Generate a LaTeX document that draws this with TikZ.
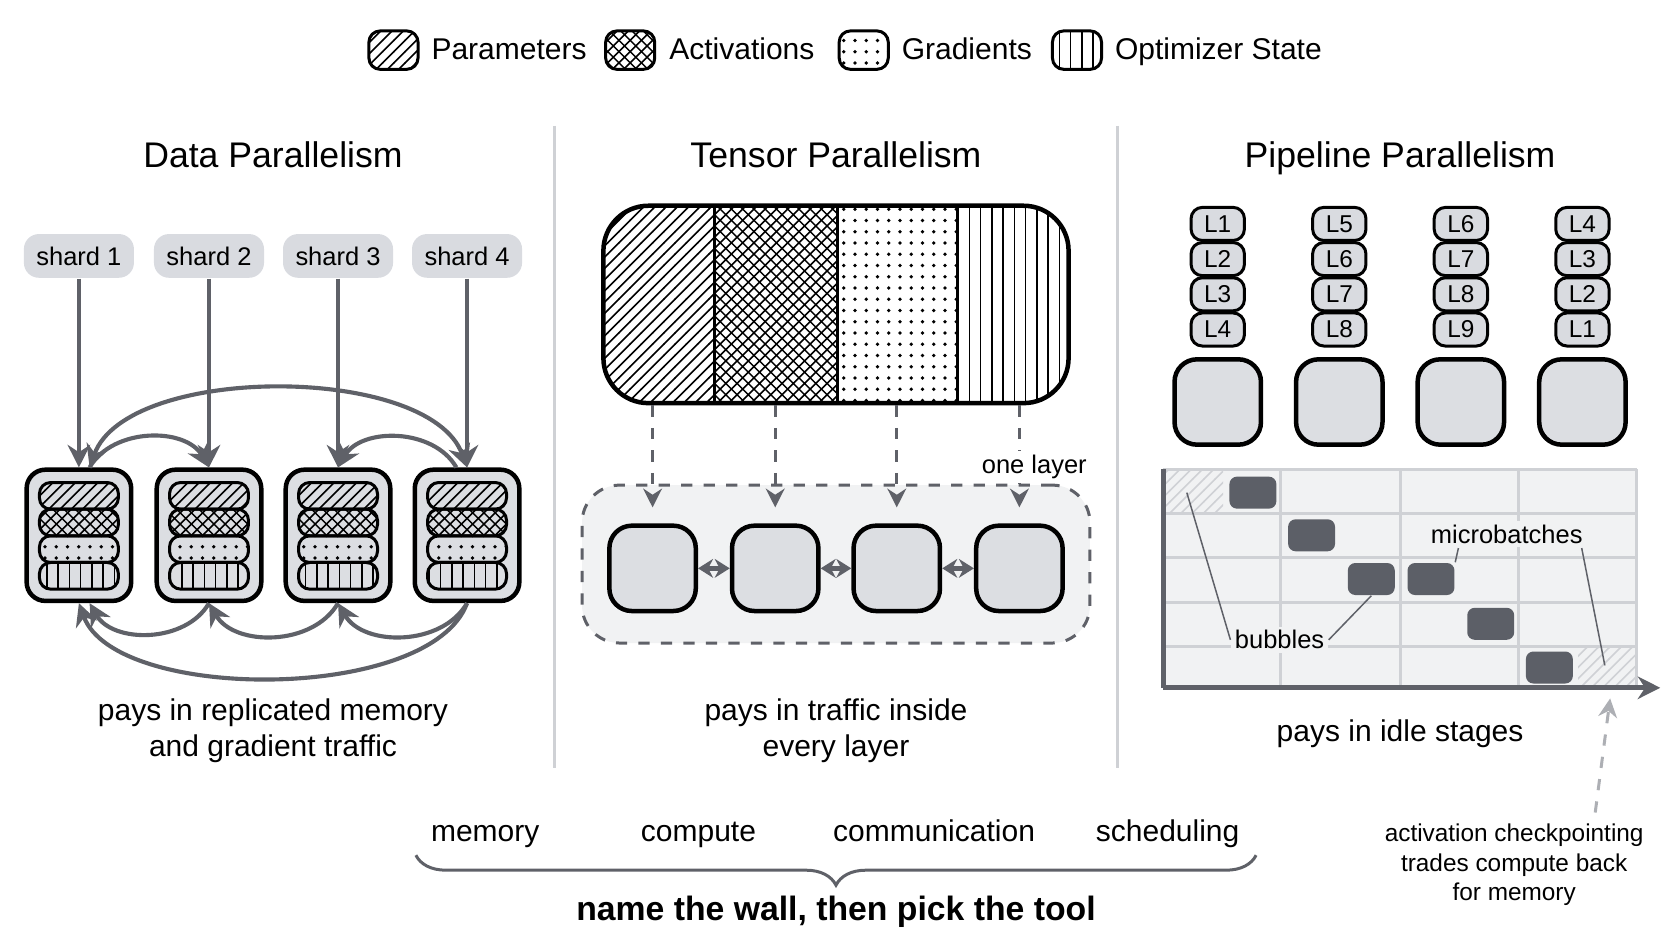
\documentclass[tikz,border=0pt]{standalone}
\usepackage{fontspec}
\setmainfont{Liberation Sans}
\usetikzlibrary{positioning,patterns,arrows.meta,decorations.pathreplacing}
\definecolor{chipgray}{HTML}{D9DBE0}
\definecolor{devgray}{HTML}{DCDEE2}
\definecolor{arrgray}{HTML}{5F6168}
\definecolor{blockgray}{HTML}{5C5F67}
\definecolor{gridgray}{HTML}{CFD1D5}
\definecolor{panelgray}{HTML}{F1F2F3}

\tikzset{
    shard/.style={fill=chipgray, rounded corners=4pt, minimum width=0.98cm, minimum height=0.40cm, font=\fontsize{6.8}{8}\selectfont},
    dev/.style={draw, very thick, fill=devgray, rounded corners=5pt, minimum width=0.98cm, minimum height=1.23cm},
    bar/.style={draw, thick, fill=white, rounded corners=3pt, minimum width=0.74cm, minimum height=0.25cm},
    chip/.style={draw, thick, fill=chipgray, rounded corners=3pt, minimum width=0.50cm, minimum height=0.31cm, inner sep=0pt, font=\fontsize{6.5}{8}\selectfont},
    box/.style={draw, very thick, fill=devgray, rounded corners=6pt, minimum width=0.81cm, minimum height=0.80cm},
    swatch/.style={draw, thick, rounded corners=3pt, minimum width=0.46cm, minimum height=0.36cm},
    legtext/.style={anchor=base west, inner sep=0pt, font=\fontsize{8}{9.6}\selectfont},
    arr/.style={draw=arrgray, line width=1.1pt, -{Stealth[length=6pt,width=6pt]}},
    dasharr/.style={draw=arrgray, thick, dashed, -{Stealth[length=5pt,width=5pt]}},
    title/.style={font=\fontsize{9.5}{11}\selectfont},
    caption/.style={font=\fontsize{8}{9.6}\selectfont, align=center},
    wall/.style={anchor=base, font=\fontsize{8}{9.6}\selectfont},
    lead/.style={draw=arrgray, thin},
    mb/.style={fill=blockgray, rounded corners=2pt, minimum width=0.44cm, minimum height=0.30cm, inner sep=0pt}
}

\begin{document}
\begin{tikzpicture}[x=0.01cm, y=-0.01cm]
    \useasboundingbox (0,0) rectangle (1568,882);

    % Legend
    \node (lg1) [swatch, pattern=north east lines] at (369,47) {};
    \node [legtext] at (404,56) {Parameters};
    \node (lg2) [swatch, pattern=crosshatch] at (591,47) {};
    \node [legtext] at (627,56) {Activations};
    \node (lg3) [swatch, pattern=dots] at (810,47) {};
    \node [legtext] at (845,56) {Gradients};
    \node (lg4) [swatch, pattern=vertical lines] at (1010,47) {};
    \node [legtext] at (1045,56) {Optimizer State};

    % Dividers
    \draw[gridgray, thick] (520,118) -- (520,720);
    \draw[gridgray, thick] (1048,118) -- (1048,720);

    % Titles
    \node [title, anchor=base] at (256,157) {Data Parallelism};
    \node [title, anchor=base] at (784,157) {Tensor Parallelism};
    \node [title, anchor=base] at (1313,157) {Pipeline Parallelism};

    % Data parallelism
    \foreach \i/\x in {1/74,2/196,3/317,4/438} {
        \node (s\i) [shard] at (\x,240) {shard \i};
        \node (d\i) [dev] at (\x,502) {};
        \node [bar, pattern=north east lines] at (\x,465) {};
        \node [bar, pattern=crosshatch] at (\x,490) {};
        \node [bar, pattern=dots] at (\x,515) {};
        \node [bar, pattern=vertical lines] at (\x,540) {};
        \draw[arr] (s\i) -- (d\i);
    }
    \draw[arr, {Stealth[length=6pt,width=6pt]}-{Stealth[length=6pt,width=6pt]}] ([xshift=1mm]d1.north) to[out=70, in=110, looseness=0.75] (d4.north);
    \draw[arr] ([xshift=1mm]d1.north) to[out=60, in=120] (d2.north);
    \draw[arr] ([xshift=-1mm]d4.north) to[out=120, in=60] (d3.north);
    \draw[arr] (d2.south) to[out=-120, in=-60] ([xshift=1mm]d1.south);
    \draw[arr] (d3.south) to[out=-120, in=-60] (d2.south);
    \draw[arr] (d4.south) to[out=-120, in=-60] (d3.south);
    \draw[arr] (d4.south) to[out=-110, in=-70, looseness=0.7] (d1.south);
    \node [caption] at (256,685) {pays in replicated memory\\and gradient traffic};

    % Tensor parallelism
    \node (grp) [draw=arrgray, thick, dashed, fill=panelgray, rounded corners=10pt, minimum width=4.76cm, minimum height=1.48cm] at (784,529) {};
    \begin{scope}
        \clip[rounded corners=12pt] (566,193) rectangle (1002,378);
        \fill[white] (566,193) rectangle (1002,378);
        \fill[pattern=north east lines] (566,193) rectangle (670,378);
        \fill[pattern=crosshatch] (670,193) rectangle (785,378);
        \fill[pattern=dots] (785,193) rectangle (898,378);
        \fill[pattern=vertical lines] (898,193) rectangle (1002,378);
    \end{scope}
    \draw[thick] (670,193) -- (670,378) (785,193) -- (785,378) (898,193) -- (898,378);
    \node (tp) [draw, very thick, rounded corners=12pt, minimum width=4.36cm, minimum height=1.85cm] at (784,285.5) {};
    \foreach \i/\x in {1/612,2/727,3/841,4/956} {
        \node (t\i) [box] at (\x,533) {};
        \draw[dasharr] (tp.south -| t\i) -- ([yshift=1.5mm]t\i.north);
    }
    \foreach \a/\b in {1/2,2/3,3/4}
        \draw[arrgray, line width=1.4pt, {Stealth[length=4pt,width=5pt]}-{Stealth[length=4pt,width=5pt]}] (t\a) -- (t\b);
    \node [fill=white, inner sep=1pt, font=\fontsize{6.8}{8}\selectfont] at (970,438) {one layer};
    \node [caption] at (784,685) {pays in traffic inside\\every layer};

    % Pipeline parallelism
    \foreach \c/\x/\a/\b/\e/\f in {1/1142/1/2/3/4, 2/1256/5/6/7/8, 3/1370/6/7/8/9, 4/1484/4/3/2/1} {
        \node (c\c a) [chip] at (\x,210) {L\a};
        \node (c\c b) [chip] at (\x,243) {L\b};
        \node (c\c c) [chip] at (\x,276) {L\e};
        \node (c\c d) [chip] at (\x,309) {L\f};
        \node (p\c) [box] at (\x,377) {};
    }
    \fill[panelgray] (1091,440) rectangle (1535,645);
    \fill[pattern=north east lines, pattern color=gridgray] (1091,440) rectangle (1147,482);
    \fill[pattern=north east lines, pattern color=gridgray] (1480,606) rectangle (1535,645);
    \foreach \x in {1201,1313,1424,1535}
        \draw[gridgray, thick] (\x,440) -- (\x,645);
    \foreach \y in {440,482,523,565,606}
        \draw[gridgray, thick] (1091,\y) -- (1535,\y);
    \draw[arrgray, line width=1.4pt] (1091,440) -- (1091,645);
    \coordinate (ax0) at (1091,645);
    \coordinate (ax1) at (1557,645);
    \draw[arrgray, line width=1.4pt, -{Stealth[length=6pt,width=6pt]}] (ax0) -- (ax1);
    \node (m1) [mb] at (1175,462) {};
    \node (m2) [mb] at (1230,502) {};
    \node (m3) [mb] at (1286,543) {};
    \node (m4) [mb] at (1342,543) {};
    \node (m5) [mb] at (1398,585) {};
    \node (m6) [mb] at (1453,626) {};
    \node (mlab) [fill=panelgray, inner sep=1pt, font=\fontsize{6.8}{8}\selectfont] at (1413,501) {microbatches};
    \node (blab) [fill=panelgray, inner sep=1pt, font=\fontsize{6.8}{8}\selectfont] at (1200,600) {bubbles};
    \coordinate (bub1) at (1113,462);
    \coordinate (bub2) at (1505,624);
    \draw[lead] (mlab.south west) ++(30,0) -- (m4.north east);
    \draw[lead] (mlab.south east) ++(-5,0) -- (bub2);
    \draw[lead] (blab.west) -- (bub1);
    \draw[lead] (blab.east) -- (m3.south);
    \node [caption] at (1313,688) {pays in idle stages};

    % Checkpointing note
    \node (ck) [align=center, font=\fontsize{6.5}{7.8}\selectfont] at (1420,811) {activation checkpointing\\trades compute back\\for memory};
    \draw[dasharr, draw=gridgray!70!arrgray] (1496,762) -- (1510,655);

    % Walls
    \node [wall] at (455,789) {memory};
    \node [wall] at (655,789) {compute};
    \node [wall] at (876,789) {communication};
    \node [wall] at (1095,789) {scheduling};
    \draw[arrgray, thick, decorate, decoration={brace, mirror, amplitude=8pt}] (390,802) -- (1178,802);
    \node [font=\bfseries\fontsize{9}{11}\selectfont] at (784,855) {name the wall, then pick the tool};
\end{tikzpicture}
\end{document}
